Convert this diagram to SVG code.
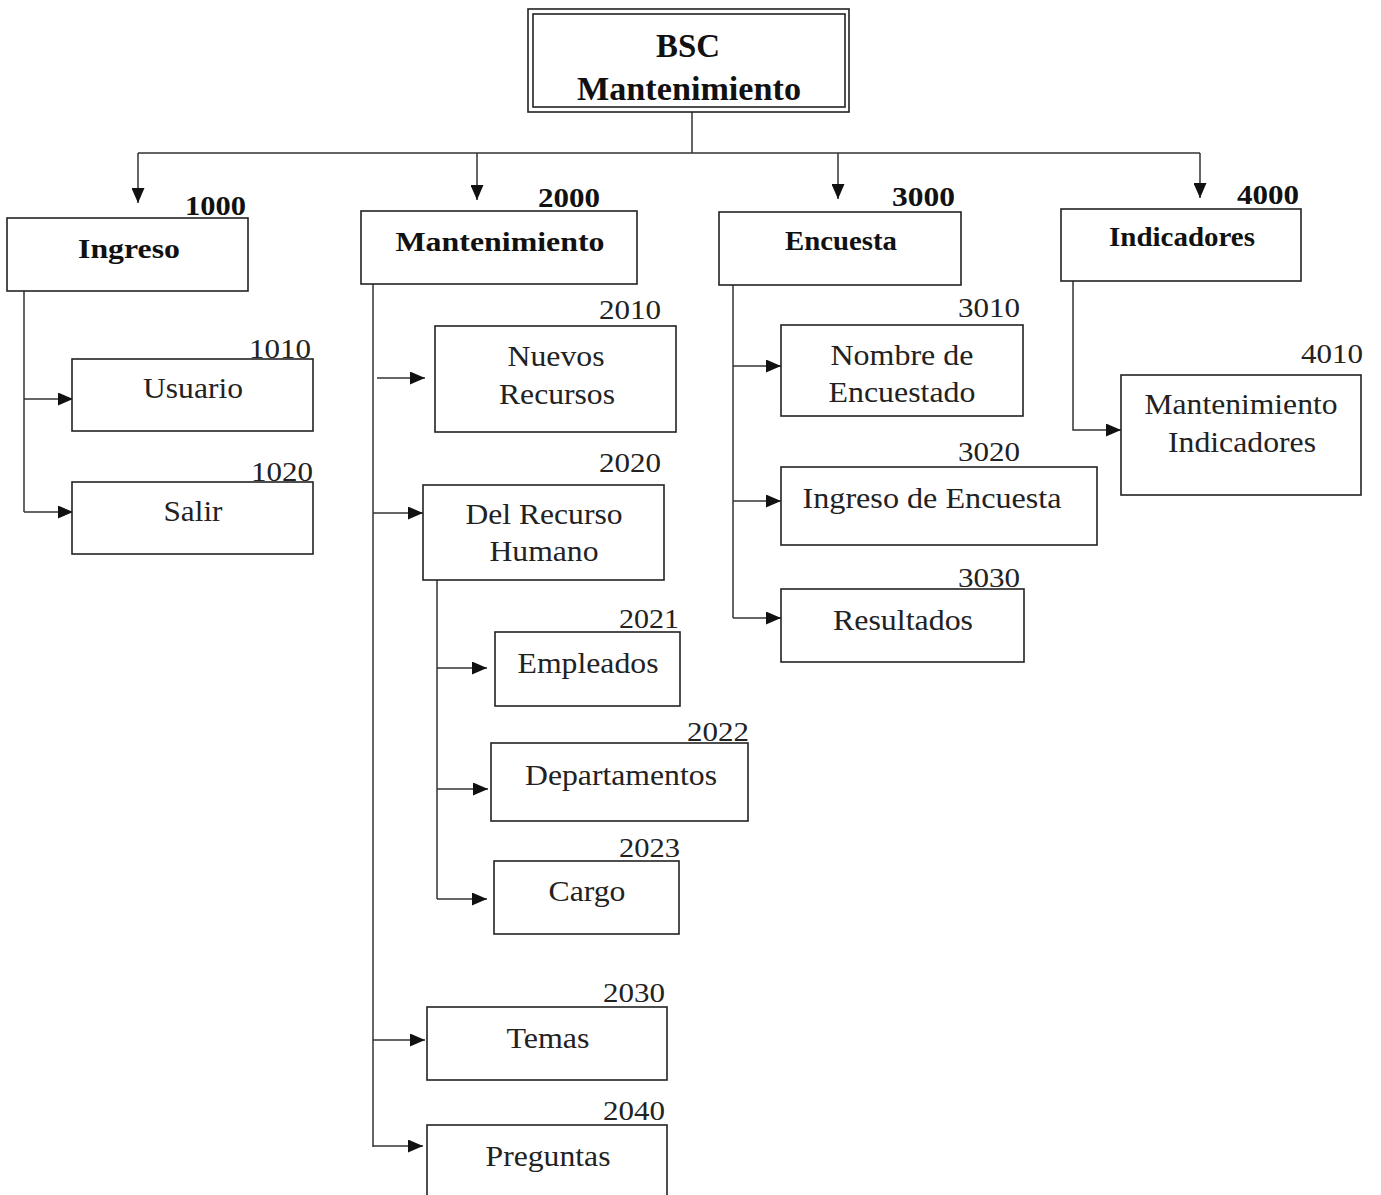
<svg xmlns="http://www.w3.org/2000/svg" width="1381" height="1195" viewBox="0 0 1381 1195">
<style>
.box{fill:#fff;stroke:#222;stroke-width:1.6}
.c{fill:none;stroke:#333;stroke-width:1.5}
.t{font-family:"Liberation Serif",serif;font-size:29px;fill:#222;text-anchor:middle}
.b{font-family:"Liberation Serif",serif;font-size:27px;font-weight:bold;fill:#111;text-anchor:middle}
.n{font-family:"Liberation Serif",serif;font-size:28px;fill:#222;text-anchor:end}
.nb{font-family:"Liberation Serif",serif;font-size:27px;font-weight:bold;fill:#111;text-anchor:end}
.big{font-size:33px}
</style>
<defs>
<marker id="ah" markerWidth="15" markerHeight="13" refX="15" refY="6.5" orient="auto" markerUnits="userSpaceOnUse">
<path d="M0,0 L15,6.5 L0,13 Z" fill="#111"/>
</marker>
<clipPath id="topclip"><rect x="533" y="14" width="312" height="93"/></clipPath>
</defs>
<rect width="1381" height="1195" fill="#fff"/>

<g id="connectors">
<path class="c" d="M692,112 V153 M138,153 H1200"/>
<path class="c" d="M138,153 V203" marker-end="url(#ah)"/>
<path class="c" d="M477,153 V200" marker-end="url(#ah)"/>
<path class="c" d="M838,153 V199" marker-end="url(#ah)"/>
<path class="c" d="M1200,153 V198" marker-end="url(#ah)"/>

<path class="c" d="M24,291 V512"/>
<path class="c" d="M24,399 H73" marker-end="url(#ah)"/>
<path class="c" d="M24,512 H73" marker-end="url(#ah)"/>

<path class="c" d="M373,284 V1147"/>
<path class="c" d="M377,378 H425" marker-end="url(#ah)"/>
<path class="c" d="M373,513 H423" marker-end="url(#ah)"/>
<path class="c" d="M373,1040 H425" marker-end="url(#ah)"/>
<path class="c" d="M373,1146 H423" marker-end="url(#ah)"/>

<path class="c" d="M437,580 V899"/>
<path class="c" d="M437,668 H487" marker-end="url(#ah)"/>
<path class="c" d="M437,789 H488" marker-end="url(#ah)"/>
<path class="c" d="M437,899 H487" marker-end="url(#ah)"/>

<path class="c" d="M733,285 V618"/>
<path class="c" d="M733,366 H781" marker-end="url(#ah)"/>
<path class="c" d="M733,501 H781" marker-end="url(#ah)"/>
<path class="c" d="M733,618 H781" marker-end="url(#ah)"/>

<path class="c" d="M1073,281 V430 H1121" marker-end="url(#ah)"/>
</g>

<g id="root">
<rect class="box" x="528" y="9" width="321" height="103"/>
<rect class="box" x="533" y="14" width="312" height="93"/>
<g clip-path="url(#topclip)">
<text class="b big" x="688" y="57" textLength="64" lengthAdjust="spacingAndGlyphs">BSC</text>
<text class="b big" x="689" y="100" textLength="224" lengthAdjust="spacingAndGlyphs">Mantenimiento</text>
</g>
</g>

<g id="n1000">
<rect class="box" x="7" y="218" width="241" height="73"/>
<text class="nb" x="246" y="215" textLength="61" lengthAdjust="spacingAndGlyphs">1000</text>
<text class="b" x="129" y="258" textLength="102" lengthAdjust="spacingAndGlyphs">Ingreso</text>
</g>
<g id="n2000">
<rect class="box" x="361" y="211" width="276" height="73"/>
<text class="nb" x="600" y="207" textLength="62" lengthAdjust="spacingAndGlyphs">2000</text>
<text class="b" x="500" y="251" textLength="209" lengthAdjust="spacingAndGlyphs">Mantenimiento</text>
</g>
<g id="n3000">
<rect class="box" x="719" y="212" width="242" height="73"/>
<text class="nb" x="955" y="206" textLength="63" lengthAdjust="spacingAndGlyphs">3000</text>
<text class="b" x="841" y="250" textLength="112" lengthAdjust="spacingAndGlyphs">Encuesta</text>
</g>
<g id="n4000">
<rect class="box" x="1061" y="209" width="240" height="72"/>
<text class="nb" x="1299" y="204" textLength="62" lengthAdjust="spacingAndGlyphs">4000</text>
<text class="b" x="1182" y="246" textLength="146" lengthAdjust="spacingAndGlyphs">Indicadores</text>
</g>

<g id="n1010">
<rect class="box" x="72" y="359" width="241" height="72"/>
<text class="n" x="311" y="358" textLength="62" lengthAdjust="spacingAndGlyphs">1010</text>
<text class="t" x="193" y="398" textLength="100" lengthAdjust="spacingAndGlyphs">Usuario</text>
</g>
<g id="n1020">
<rect class="box" x="72" y="482" width="241" height="72"/>
<text class="n" x="313" y="481" textLength="62" lengthAdjust="spacingAndGlyphs">1020</text>
<text class="t" x="193" y="521" textLength="59" lengthAdjust="spacingAndGlyphs">Salir</text>
</g>

<g id="n2010">
<rect class="box" x="435" y="326" width="241" height="106"/>
<text class="n" x="661" y="319" textLength="62" lengthAdjust="spacingAndGlyphs">2010</text>
<text class="t" x="556" y="366" textLength="97" lengthAdjust="spacingAndGlyphs">Nuevos</text>
<text class="t" x="557" y="404" textLength="116" lengthAdjust="spacingAndGlyphs">Recursos</text>
</g>
<g id="n2020">
<rect class="box" x="423" y="485" width="241" height="95"/>
<text class="n" x="661" y="472" textLength="62" lengthAdjust="spacingAndGlyphs">2020</text>
<text class="t" x="544" y="524" textLength="157" lengthAdjust="spacingAndGlyphs">Del Recurso</text>
<text class="t" x="544" y="561" textLength="109" lengthAdjust="spacingAndGlyphs">Humano</text>
</g>
<g id="n2021">
<rect class="box" x="495" y="632" width="185" height="74"/>
<text class="n" x="679" y="628" textLength="60" lengthAdjust="spacingAndGlyphs">2021</text>
<text class="t" x="588" y="673" textLength="141" lengthAdjust="spacingAndGlyphs">Empleados</text>
</g>
<g id="n2022">
<rect class="box" x="491" y="743" width="257" height="78"/>
<text class="n" x="749" y="741" textLength="62" lengthAdjust="spacingAndGlyphs">2022</text>
<text class="t" x="621" y="785" textLength="192" lengthAdjust="spacingAndGlyphs">Departamentos</text>
</g>
<g id="n2023">
<rect class="box" x="494" y="861" width="185" height="73"/>
<text class="n" x="680" y="857" textLength="61" lengthAdjust="spacingAndGlyphs">2023</text>
<text class="t" x="587" y="901" textLength="77" lengthAdjust="spacingAndGlyphs">Cargo</text>
</g>
<g id="n2030">
<rect class="box" x="427" y="1007" width="240" height="73"/>
<text class="n" x="665" y="1002" textLength="62" lengthAdjust="spacingAndGlyphs">2030</text>
<text class="t" x="548" y="1048" textLength="83" lengthAdjust="spacingAndGlyphs">Temas</text>
</g>
<g id="n2040">
<rect class="box" x="427" y="1125" width="240" height="80"/>
<text class="n" x="665" y="1120" textLength="62" lengthAdjust="spacingAndGlyphs">2040</text>
<text class="t" x="548" y="1166" textLength="125" lengthAdjust="spacingAndGlyphs">Preguntas</text>
</g>

<g id="n3010">
<rect class="box" x="781" y="325" width="242" height="91"/>
<text class="n" x="1020" y="317" textLength="62" lengthAdjust="spacingAndGlyphs">3010</text>
<text class="t" x="902" y="365" textLength="143" lengthAdjust="spacingAndGlyphs">Nombre de</text>
<text class="t" x="902" y="402" textLength="147" lengthAdjust="spacingAndGlyphs">Encuestado</text>
</g>
<g id="n3020">
<rect class="box" x="781" y="467" width="316" height="78"/>
<text class="n" x="1020" y="461" textLength="62" lengthAdjust="spacingAndGlyphs">3020</text>
<text class="t" x="932" y="508" textLength="259" lengthAdjust="spacingAndGlyphs">Ingreso de Encuesta</text>
</g>
<g id="n3030">
<rect class="box" x="781" y="589" width="243" height="73"/>
<text class="n" x="1020" y="587" textLength="62" lengthAdjust="spacingAndGlyphs">3030</text>
<text class="t" x="903" y="630" textLength="140" lengthAdjust="spacingAndGlyphs">Resultados</text>
</g>

<g id="n4010">
<rect class="box" x="1121" y="375" width="240" height="120"/>
<text class="n" x="1363" y="363" textLength="62" lengthAdjust="spacingAndGlyphs">4010</text>
<text class="t" x="1241" y="414" textLength="193" lengthAdjust="spacingAndGlyphs">Mantenimiento</text>
<text class="t" x="1242" y="452" textLength="148" lengthAdjust="spacingAndGlyphs">Indicadores</text>
</g>
</svg>
